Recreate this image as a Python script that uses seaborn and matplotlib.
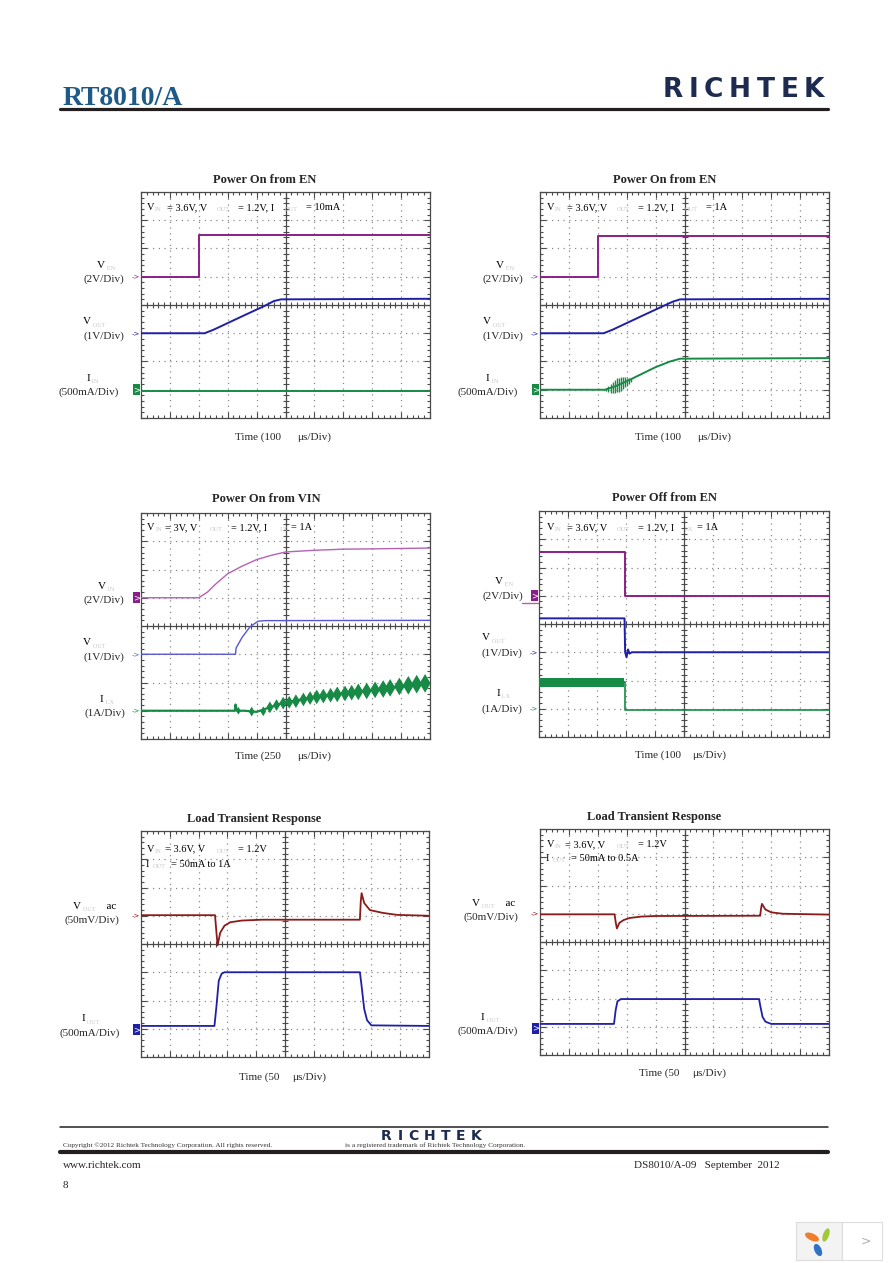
import numpy as np
import matplotlib
matplotlib.use("Agg")
import matplotlib.pyplot as plt
import seaborn as sns
from matplotlib.patches import Rectangle, Ellipse
from matplotlib.lines import Line2D
from matplotlib.ticker import MultipleLocator

# ---------------- data (scope divisions: x 0..10, y 0..8) ----------------
# Panel 1 : Power On from EN, IOUT = 10mA
P1_T_VEN = [0, 2.0, 2.0, 10];                    P1_VEN = [5.0, 5.0, 6.48, 6.48]
P1_T_VOUT = [0, 2.2, 2.5, 3.5, 4.3, 4.6, 4.85, 10]; P1_VOUT = [3.0, 3.0, 3.12, 3.6, 3.98, 4.14, 4.2, 4.22]
P1_T_IIN = [0, 10];                               P1_IIN = [0.97, 0.97]

# Panel 2 : Power On from EN, IOUT = 1A
P2_T_VEN = [0, 2.0, 2.0, 10];                    P2_VEN = [5.0, 5.0, 6.45, 6.45]
P2_T_VOUT = [0, 2.2, 2.5, 3.5, 4.3, 4.6, 4.85, 10]; P2_VOUT = [3.0, 3.0, 3.12, 3.6, 3.98, 4.12, 4.2, 4.22]
P2_T_IIN = [0, 2.25, 2.6, 3.0, 3.5, 4.0, 4.5, 4.85, 10]
P2_IIN = [1.0, 1.0, 1.12, 1.3, 1.55, 1.8, 2.0, 2.1, 2.12]
P2_T_OSC = [2.3, 2.37, 2.44, 2.51, 2.58, 2.65, 2.72, 2.79, 2.86, 2.93, 3.0, 3.07, 3.14]
P2_OSC_HI = [1.05, 1.12, 1.2, 1.28, 1.35, 1.4, 1.42, 1.44, 1.45, 1.45, 1.43, 1.42, 1.4]
P2_OSC_LO = [0.95, 0.93, 0.9, 0.9, 0.9, 0.91, 0.93, 0.97, 1.02, 1.08, 1.15, 1.22, 1.28]

# Panel 3 : Power On from VIN
P3_T_VIN = [0, 2.0, 2.3, 2.6, 3.0, 3.5, 4.0, 4.5, 5.0, 6.0, 7.0, 8.0, 10]
P3_VIN = [5.0, 5.0, 5.2, 5.5, 5.85, 6.12, 6.35, 6.5, 6.62, 6.68, 6.72, 6.73, 6.76]
P3_T_VOUT = [0, 3.27, 3.29, 3.5, 3.77, 4.05, 4.3, 10]
P3_VOUT = [3.0, 3.0, 3.22, 3.6, 3.97, 4.17, 4.19, 4.2]
P3_T_ILX = [0, 3.25, 3.27, 3.32, 3.6, 4.0, 4.4, 4.9, 5.8, 6.6, 7.5, 8.4, 9.2, 10]
P3_ILX = [1.0, 1.0, 1.22, 1.0, 1.0, 0.96, 1.1, 1.27, 1.45, 1.56, 1.67, 1.77, 1.9, 1.98]
P3_T_RIP = [3.37, 3.83, 4.23, 4.46, 4.69, 4.92, 5.13, 5.36, 5.62, 5.85, 6.08, 6.31, 6.56,
            6.79, 7.06, 7.29, 7.52, 7.81, 8.1, 8.38, 8.62, 8.94, 9.25, 9.54, 9.83]
P3_RIP = [1.0, 0.97, 0.98, 1.12, 1.2, 1.27, 1.3, 1.34, 1.4, 1.45, 1.49, 1.52, 1.55,
          1.58, 1.61, 1.64, 1.67, 1.7, 1.74, 1.77, 1.81, 1.86, 1.9, 1.94, 1.97]
P3_RIP_SIZE = [4, 5, 5, 6, 6, 6.5, 6.5, 7, 7, 7, 7.5, 7.5, 7.5,
               8, 8, 8, 8.5, 8.5, 8.5, 9, 9, 9, 9.5, 9.5, 9.5]

# Panel 4 : Power Off from EN
P4_T_VEN = [0, 2.95, 2.95, 10];                  P4_VEN = [6.55, 6.55, 5.0, 5.0]
P4_T_VOUT = [0, 2.95, 2.97, 3.02, 3.07, 3.12, 3.2, 10]
P4_VOUT = [4.2, 4.2, 3.0, 2.82, 3.1, 2.95, 3.0, 3.0]
P4_T_ILX_BAND = [0, 2.93];  P4_ILX_HI = [2.08, 2.08];  P4_ILX_LO = [1.78, 1.78]
P4_T_ILX = [2.93, 2.95, 2.95, 10];                P4_ILX = [1.93, 1.93, 0.97, 0.97]

# Panel 5 : Load Transient 50mA to 1A
P5_T_VAC = [0, 2.57, 2.62, 2.66, 2.75, 2.9, 3.1, 3.5, 4.2, 7.6, 7.63, 7.66, 7.75, 7.95, 8.4, 8.9, 10]
P5_VAC = [5.02, 5.02, 4.4, 3.95, 4.4, 4.65, 4.77, 4.83, 4.86, 4.86, 5.5, 5.8, 5.45, 5.2, 5.1, 5.03, 5.0]
P5_T_IOUT = [0, 2.55, 2.62, 2.7, 2.8, 2.9, 7.6, 7.65, 7.75, 7.85, 8.0, 10]
P5_IOUT = [1.1, 1.1, 1.8, 2.7, 2.95, 3.0, 3.0, 2.6, 1.7, 1.3, 1.12, 1.1]

# Panel 6 : Load Transient 50mA to 0.5A
P6_T_VAC = [0, 2.58, 2.62, 2.66, 2.75, 2.9, 3.1, 3.5, 4.0, 7.62, 7.65, 7.68, 7.8, 8.0, 8.4, 10]
P6_VAC = [4.98, 4.98, 4.7, 4.48, 4.68, 4.78, 4.85, 4.9, 4.92, 4.93, 5.2, 5.35, 5.15, 5.05, 5.0, 4.97]
P6_T_IOUT = [0, 2.56, 2.62, 2.68, 2.8, 7.58, 7.62, 7.7, 7.8, 8.0, 10]
P6_IOUT = [1.1, 1.1, 1.6, 1.9, 1.98, 1.98, 1.75, 1.35, 1.18, 1.1, 1.1]

TITLES = ["Power On from EN", "Power On from EN", "Power On from VIN",
          "Power Off from EN", "Load Transient Response", "Load Transient Response"]
TIME_SCALE = ["100", "100", "250", "100", "50", "50"]

# condition texts: (x position in divisions, text, is_subscript)
COND = [
    [(7.36, [(0.2, "V", 0), (0.48, "IN", 1), (0.89, "= 3.6V, V", 0), (2.62, "OUT", 1),
             (3.36, "= 1.2V, I", 0), (4.98, "OUT", 1), (5.71, "= 10mA", 0)])],
    [(7.36, [(0.23, "V", 0), (0.52, "IN", 1), (0.92, "= 3.6V, V", 0), (2.65, "OUT", 1),
             (3.40, "= 1.2V, I", 0), (5.0, "OUT", 1), (5.74, "= 1A", 0)])],
    [(7.40, [(0.2, "V", 0), (0.52, "IN", 1), (0.83, "= 3V, V", 0), (2.39, "OUT", 1),
             (3.11, "= 1.2V, I", 0), (4.81, "LX", 1), (5.18, "= 1A", 0)])],
    [(7.33, [(0.27, "V", 0), (0.55, "IN", 1), (0.95, "= 3.6V, V", 0), (2.68, "OUT", 1),
             (3.40, "= 1.2V, I", 0), (5.03, "LX", 1), (5.44, "= 1A", 0)])],
    [(7.27, [(0.2, "V", 0), (0.49, "IN", 1), (0.83, "= 3.6V, V", 0), (2.63, "OUT", 1),
             (3.38, "= 1.2V", 0)]),
     (6.74, [(0.17, "I", 0), (0.40, "OUT", 1), (1.03, "= 50mA to 1A", 0)])],
    [(7.37, [(0.23, "V", 0), (0.52, "IN", 1), (0.87, "= 3.6V, V", 0), (2.65, "OUT", 1),
             (3.40, "= 1.2V", 0)]),
     (6.87, [(0.21, "I", 0), (0.43, "OUT", 1), (1.06, "= 50mA to 0.5A", 0)])],
]

# ---------------- styling ----------------
sns.set_theme(style="white")
plt.rcParams['font.family'] = ['Liberation Serif', 'DejaVu Serif']

W, H = 892, 1263
fig = plt.figure(figsize=(W / 100, H / 100), dpi=100)
page = fig.add_axes([0, 0, 1, 1], zorder=0)
page.set_xlim(0, W); page.set_ylim(H, 0); page.axis('off')

PURPLE = '#8a1f88'; PURPLE_L = '#b462b4'
BLUE = '#1f1fa8'; BLUE_L = '#5656d6'
GREEN = '#178a45'; RED = '#8b1a1a'
SUBC = '#c9c9c9'
GRIDC = '#8a8a8a'; AXC = '#4a4a4a'
LOGOC = '#1c2b4f'


def scope_axes(x0, y0, x1, y1):
    ax = fig.add_axes([x0 / W, 1 - y1 / H, (x1 - x0) / W, (y1 - y0) / H], zorder=2)
    ax.set_xlim(0, 10); ax.set_ylim(0, 8)
    ax.set_facecolor('white')
    ax.grid(False)
    for s in ax.spines.values():
        s.set_visible(True); s.set_color(AXC); s.set_linewidth(0.9)
    for a in (ax.xaxis, ax.yaxis):
        a.set_major_locator(MultipleLocator(1))
        a.set_minor_locator(MultipleLocator(0.2))
    ax.tick_params(which='both', direction='in', top=True, right=True, bottom=True, left=True,
                   labelbottom=False, labelleft=False, color=AXC, width=0.8)
    ax.tick_params(which='major', length=4)
    ax.tick_params(which='minor', length=2.2)
    for i in range(1, 10):
        if i != 5:
            ax.axvline(i, color=GRIDC, lw=0.9, ls=(0, (1, 3.6)), zorder=0)
    for j in range(1, 8):
        if j != 4:
            ax.axhline(j, color=GRIDC, lw=0.9, ls=(0, (1, 3.6)), zorder=0)
    ax.axvline(5, color=AXC, lw=0.9, zorder=1)
    ax.axhline(4, color=AXC, lw=0.9, zorder=1)
    tx = np.arange(0.2, 10, 0.2)
    ax.plot(tx, np.full_like(tx, 4), ls='none', marker='|', ms=4.5, mew=0.8, color=AXC, zorder=1)
    ty = np.arange(0.2, 8, 0.2)
    ax.plot(np.full_like(ty, 5), ty, ls='none', marker='_', ms=4.5, mew=0.8, color=AXC, zorder=1)
    return ax


def trace(ax, x, y, color, lw=1.4):
    sns.lineplot(x=x, y=y, ax=ax, color=color, lw=lw, estimator=None, sort=False,
                 legend=False, zorder=3)


def rich(ax, x, y, parts, size=7.5, sub=4.6, color='black'):
    t0, s0 = parts[0]
    prev = ax.text(x, y, t0, fontsize=sub if s0 else size, color=SUBC if s0 else color,
                   va='baseline', ha='left', clip_on=False)
    prev_dy = 0
    for txt, is_sub in parts[1:]:
        dy = -1.0 if is_sub else 0
        prev = ax.annotate(txt, xy=(1, 0), xycoords=prev, xytext=(0, dy - prev_dy),
                           textcoords='offset points', va='bottom', ha='left',
                           fontsize=sub if is_sub else size,
                           color=SUBC if is_sub else color, annotation_clip=False)
        prev_dy = dy


def cond_text(ax, y, pieces, size=7.5, sub=4.6):
    for x, txt, is_sub in pieces:
        ax.text(x, y - (0.05 if is_sub else 0), txt, fontsize=sub if is_sub else size,
                color=SUBC if is_sub else 'black', va='baseline', ha='left', clip_on=False)


def spaced(ax, x, y, word, size, gap_pt, color):
    prev = ax.text(x, y, word[0], fontsize=size, fontweight='bold', family='DejaVu Sans',
                   color=color, va='baseline', ha='left')
    for ch in word[1:]:
        prev = ax.annotate(ch, xy=(1, 0), xycoords=prev, xytext=(gap_pt, 0),
                           textcoords='offset points', va='bottom', ha='left', fontsize=size,
                           fontweight='bold', family='DejaVu Sans', color=color)


def marker(ax, y, color, filled):
    if filled:
        ax.add_patch(Rectangle((-0.28, y - 0.2), 0.26, 0.4, fc=color, ec='none', clip_on=False))
        ax.text(-0.15, y, ">", color='white', fontsize=6, ha='center', va='center',
                family='DejaVu Sans', clip_on=False)
    else:
        ax.text(-0.04, y, "->", color=color, fontsize=5, ha='right', va='center',
                family='DejaVu Sans', clip_on=False)


def channel(ax, y, name_x, name_parts, div_right, div_text, color, filled, name_dy=0.32, div_dy=-0.1):
    marker(ax, y, color, filled)
    rich(ax, name_x, y + name_dy, name_parts, size=8)
    ax.text(div_right, y + div_dy, div_text, fontsize=8, ha='right', va='center', clip_on=False)


RECTS = [(141, 192, 430, 418), (540, 192, 829, 418), (141, 513, 430, 739),
         (539, 511, 829, 737), (141, 831, 429, 1057), (540, 829, 829, 1055)]
TITLE_POS = [(265, 180), (665, 180), (266, 499), (664, 498), (254, 819), (654, 817)]
TIME_POS = [(281, 297, 437), (681, 697, 437), (281, 297, 756), (681, 692, 755),
            (279, 292, 1077), (679, 692, 1073)]

axes = [scope_axes(*r) for r in RECTS]

for k, ax in enumerate(axes):
    tx, ty = TITLE_POS[k]
    page.text(tx, ty, TITLES[k], fontsize=9, fontweight='bold', ha='center', va='center')
    xr, xl, yy = TIME_POS[k]
    page.text(xr, yy, "Time (" + TIME_SCALE[k], fontsize=8, ha='right', va='center')
    page.text(xl, yy, "\u03bcs/Div)", fontsize=8, ha='left', va='center')
    for yb, pieces in COND[k]:
        cond_text(ax, yb, pieces)

# ---- Panel 1
ax = axes[0]
trace(ax, P1_T_VEN, P1_VEN, PURPLE)
trace(ax, P1_T_VOUT, P1_VOUT, BLUE)
trace(ax, P1_T_IIN, P1_IIN, GREEN)
channel(ax, 5.0, -1.53, [("V", 0), (" EN", 1)], -0.59, "(2V/Div)", PURPLE, False)
channel(ax, 3.0, -2.0, [("V", 0), (" OUT", 1)], -0.59, "(1V/Div)", BLUE, False)
channel(ax, 1.0, -1.88, [("I", 0), (" IN", 1)], -0.75, "(500mA/Div)", GREEN, True)

# ---- Panel 2
ax = axes[1]
trace(ax, P2_T_VEN, P2_VEN, PURPLE)
trace(ax, P2_T_VOUT, P2_VOUT, BLUE)
trace(ax, P2_T_IIN, P2_IIN, GREEN)
ax.vlines(P2_T_OSC, P2_OSC_LO, P2_OSC_HI, color=GREEN, lw=1.0, zorder=3)
channel(ax, 5.0, -1.53, [("V", 0), (" EN", 1)], -0.59, "(2V/Div)", PURPLE, False)
channel(ax, 3.0, -1.97, [("V", 0), (" OUT", 1)], -0.56, "(1V/Div)", BLUE, False)
channel(ax, 1.0, -1.87, [("I", 0), (" IN", 1)], -0.76, "(500mA/Div)", GREEN, True)

# ---- Panel 3
ax = axes[2]
trace(ax, P3_T_VIN, P3_VIN, PURPLE_L, lw=1.0)
trace(ax, P3_T_VOUT, P3_VOUT, BLUE_L, lw=1.0)
trace(ax, P3_T_ILX, P3_ILX, GREEN, lw=1.6)
ax.scatter(P3_T_RIP, P3_RIP, s=np.square(P3_RIP_SIZE), marker='d', color=GREEN,
           edgecolors='none', zorder=4)
channel(ax, 5.0, -1.48, [("V", 0), (" IN", 1)], -0.59, "(2V/Div)", PURPLE, True)
channel(ax, 3.0, -2.0, [("V", 0), (" OUT", 1)], -0.59, "(1V/Div)", BLUE_L, False)
channel(ax, 1.0, -1.42, [("I", 0), (" LX", 1)], -0.55, "(1A/Div)", GREEN, False)

# ---- Panel 4
ax = axes[3]
trace(ax, P4_T_VEN, P4_VEN, PURPLE)
trace(ax, P4_T_VOUT, P4_VOUT, BLUE)
ax.fill_between(P4_T_ILX_BAND, P4_ILX_LO, P4_ILX_HI, color=GREEN, lw=0, zorder=3)
trace(ax, P4_T_ILX, P4_ILX, GREEN, lw=1.2)
channel(ax, 5.0, -1.52, [("V", 0), (" EN", 1)], -0.56, "(2V/Div)", PURPLE, True, name_dy=0.42, div_dy=-0.03)
ax.plot([-0.6, -0.02], [4.74, 4.74], color=PURPLE_L, lw=1.0, clip_on=False)
channel(ax, 3.0, -1.96, [("V", 0), (" OUT", 1)], -0.56, "(1V/Div)", BLUE, False, name_dy=0.42, div_dy=-0.03)
channel(ax, 1.0, -1.46, [("I", 0), (" LX", 1)], -0.56, "(1A/Div)", GREEN, False, name_dy=0.45, div_dy=0.0)

# ---- Panel 5
ax = axes[4]
trace(ax, P5_T_VAC, P5_VAC, RED, lw=1.3)
trace(ax, P5_T_IOUT, P5_IOUT, BLUE, lw=1.3)
channel(ax, 5.0, -2.35, [("V", 0), (" OUT   ", 1), ("  ac", 0)], -0.75, "(50mV/Div)", RED, False,
        name_dy=0.25, div_dy=-0.15)
channel(ax, 0.97, -2.06, [("I", 0), (" OUT", 1)], -0.75, "(500mA/Div)", BLUE, True,
        name_dy=0.3, div_dy=-0.12)

# ---- Panel 6
ax = axes[5]
trace(ax, P6_T_VAC, P6_VAC, RED, lw=1.3)
trace(ax, P6_T_IOUT, P6_IOUT, BLUE, lw=1.3)
channel(ax, 5.0, -2.34, [("V", 0), (" OUT   ", 1), ("  ac", 0)], -0.76, "(50mV/Div)", RED, False,
        name_dy=0.28, div_dy=-0.12)
channel(ax, 0.95, -2.04, [("I", 0), (" OUT", 1)], -0.76, "(500mA/Div)", BLUE, True,
        name_dy=0.3, div_dy=-0.12)

# ---------------- page header / footer ----------------
page.text(63, 105, "RT8010/A", fontsize=20, fontweight='bold', color='#1e5a87',
          ha='left', va='baseline')
page.add_line(Line2D([60, 828], [108.5, 108.5], lw=2.3, color='#231f20'))
spaced(page, 663, 97, "RICHTEK", 19, 4.0, LOGOC)

page.add_line(Line2D([60, 828], [1127, 1127], lw=1.1, color='#231f20'))
page.text(63, 1145, "Copyright \u00a92012 Richtek Technology Corporation. All rights reserved.",
          fontsize=5.2, va='center', color='#333333')
page.text(345, 1145, "is a registered trademark of Richtek Technology Corporation.",
          fontsize=5.2, va='center', color='#333333')
spaced(page, 381, 1140, "RICHTEK", 10, 4.0, LOGOC)
page.add_line(Line2D([60, 828], [1152, 1152], lw=3.0, color='#231f20'))
page.text(63, 1166, "www.richtek.com", fontsize=8, va='center')
page.text(780, 1166, "DS8010/A-09   September  2012", fontsize=8, ha='right', va='center')
page.text(63, 1186, "8", fontsize=8, va='center')

# viewer widget (bottom right)
page.add_patch(Rectangle((796, 1222), 46, 38, fc='#f3f3f3', ec='#dddddd', lw=0.8))
page.add_patch(Rectangle((842, 1222), 40, 38, fc='white', ec='#dddddd', lw=0.8))
page.add_patch(Ellipse((812, 1237), 15, 7, angle=25, fc='#ef7d2c', ec='none'))
page.add_patch(Ellipse((826, 1235), 6, 14, angle=20, fc='#a2c83a', ec='none'))
page.add_patch(Ellipse((818, 1250), 7, 13, angle=-25, fc='#2f73c4', ec='none'))
page.text(866, 1241, ">", color='#b0b0b0', fontsize=9, ha='center', va='center', family='DejaVu Sans')

fig.savefig("out.png", dpi=100, facecolor='white')
